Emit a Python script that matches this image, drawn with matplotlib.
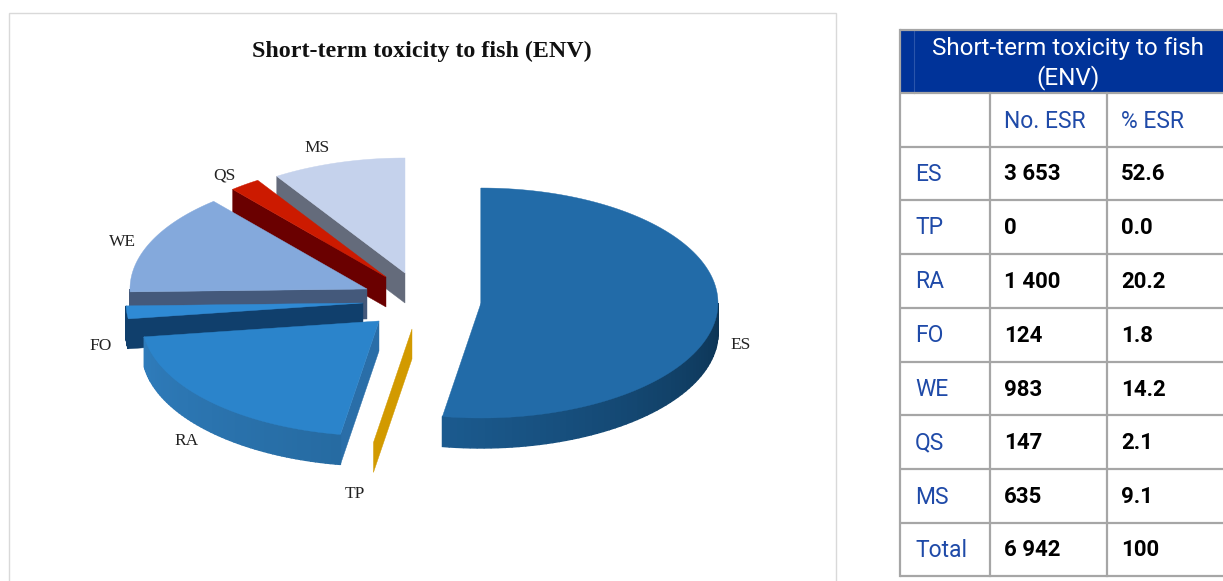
import numpy as np
import matplotlib
matplotlib.use("Agg")
import matplotlib.pyplot as plt
from matplotlib.colors import to_rgb
from matplotlib.patches import Polygon, Rectangle

# Values from the table
categories = ["ES", "TP", "RA", "FO", "WE", "QS", "MS"]
no_esr = ["3 653", "0", "1 400", "124", "983", "147", "635"]
pct_esr = [52.6, 0.0, 20.2, 1.8, 14.2, 2.1, 9.1]
total_no = "6 942"
total_pct = "100"
title = "Short-term toxicity to fish (ENV)"

# Pie look, one entry per category
centers = [(481, 303), (412, 329), (379, 321), (363, 303), (367, 289), (386, 277), (405, 273)]
top_colors = ["#226ba8", "#d29a00", "#2b84cb", "#2f8ad4", "#84a9dc", "#cc1a00", "#c5d2ec"]
face_colors = ["#226ba8", "#d29a00", "#2a6ea8", "#103f6c", "#44597b", "#6a0000", "#646b7b"]
wall_from = ["#0c3353", "#d29a00", "#266ba2", "#103f6c", "#44597b", "#6a0000", "#646b7b"]
wall_to = ["#1b5a8e", "#d29a00", "#2f7cbb", "#103f6c", "#44597b", "#6a0000", "#646b7b"]
label_pos = [(741, 345), (355, 494), (187, 441), (101, 346), (122, 242), (224, 176), (317, 148)]
draw_order = [6, 5, 4, 3, 2, 1, 0]
rx, ry, depth = 237, 115, 30

serif = "Liberation Serif"
sans = "Roboto"
blue = "#1f4aa8"
grid = "#a6a6a6"

fig = plt.figure(figsize=(12.23, 5.81), dpi=100)
ax = fig.add_axes([0, 0, 1, 1])
ax.set_xlim(0, 1223)
ax.set_ylim(581, 0)
ax.axis("off")


def arc_point(c, t):
    return c[0] + rx * np.sin(t), c[1] - ry * np.cos(t)


# Chart frame and title
ax.add_patch(Rectangle((9, 13), 827, 600, fc="white", ec="#d9d9d9", lw=1))
ax.text(422, 51, title, family=serif, weight="bold", fontsize=17.3, ha="center", va="center", color="#111111")

# Pie slices, back to front
edges = np.radians(np.concatenate([[0], np.cumsum(pct_esr)]) * 3.6)
for i in draw_order:
    c = centers[i]
    t0, t1 = edges[i], edges[i + 1]

    # cut face at the start angle
    p = arc_point(c, t0)
    ax.add_patch(Polygon([c, p, (p[0], p[1] + depth), (c[0], c[1] + depth)],
                         fc=face_colors[i], ec=face_colors[i], lw=0.3))

    # outer wall, only the part facing us
    a0, a1 = max(t0, np.pi / 2), min(t1, 3 * np.pi / 2)
    if a1 > a0:
        ts = np.linspace(a0, a1, 60)
        ca, cb = np.array(to_rgb(wall_from[i])), np.array(to_rgb(wall_to[i]))
        for k in range(len(ts) - 1):
            x0, y0 = arc_point(c, ts[k])
            x1, y1 = arc_point(c, ts[k + 1])
            col = ca + (cb - ca) * (k / (len(ts) - 2))
            ax.add_patch(Polygon([(x0, y0), (x1, y1), (x1, y1 + depth), (x0, y0 + depth)],
                                 fc=col, ec=col, lw=1.0))

    # top face
    if t1 > t0:
        ts = np.linspace(t0, t1, 120)
        pts = [c] + [arc_point(c, t) for t in ts]
        ax.add_patch(Polygon(pts, fc=top_colors[i], ec=top_colors[i], lw=0.3))

for name, pos in zip(categories, label_pos):
    ax.text(pos[0], pos[1], name, family=serif, fontsize=12.5, ha="center", va="center", color="#222222")

# Table on the right
col_x = [900, 990, 1107, 1240]
row_y = [30, 93, 147, 200, 254, 308, 362, 415, 469, 523, 576]

ax.add_patch(Rectangle((col_x[0], row_y[0]), 330, row_y[1] - row_y[0], fc="#003399", ec="none"))
ax.plot([914, 914], [row_y[0], row_y[1]], color="#2a55ab", lw=0.8)
ax.text(1068, 49, "Short-term toxicity to fish", family=sans, fontsize=17.5, color="white", ha="center", va="center")
ax.text(1068, 78, "(ENV)", family=sans, fontsize=17.5, color="white", ha="center", va="center")

for y in row_y:
    ax.plot([col_x[0], 1223], [y, y], color=grid, lw=1.6, solid_capstyle="butt")
ax.plot([col_x[0], col_x[0]], [row_y[0], row_y[-1]], color=grid, lw=1.6)
for x in col_x[1:3]:
    ax.plot([x, x], [row_y[1], row_y[-1]], color=grid, lw=1.6)

ax.text(1004, 121, "No. ESR", family=sans, fontsize=16.5, color=blue, va="center")
ax.text(1121, 121, "% ESR", family=sans, fontsize=16.5, color=blue, va="center")

row_names = categories + ["Total"]
row_no = no_esr + [total_no]
row_pct = ["%.1f" % v for v in pct_esr] + [total_pct]
for r, (name, n, v) in enumerate(zip(row_names, row_no, row_pct)):
    y = (row_y[r + 2] + row_y[r + 3]) / 2 + 1
    ax.text(915, y, name, family=sans, fontsize=16.5, color=blue, va="center")
    ax.text(1004, y, n, family=sans, fontsize=16, weight="bold", color="black", va="center")
    ax.text(1121, y, v, family=sans, fontsize=16, weight="bold", color="black", va="center")

fig.savefig("out.png", dpi=100)
